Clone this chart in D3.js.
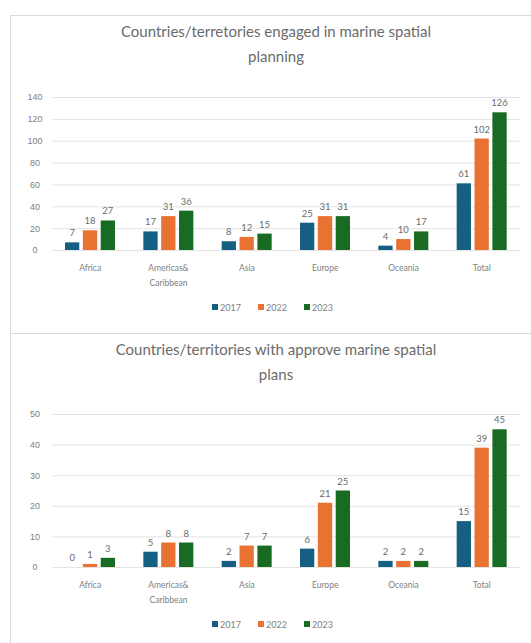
<!DOCTYPE html>
<html>
<head>
<meta charset="utf-8">
<script src="https://cdn.jsdelivr.net/npm/d3@7"></script>
<style>
body { margin: 0; background: #fff; }
svg { font-family: Lato, "Open Sans", sans-serif; }
</style>
</head>
<body>
<div id="chart"></div>
<script>
var categories = ["Africa", "Americas& Caribbean", "Asia", "Europe", "Oceania", "Total"];
var seriesNames = ["2017", "2022", "2023"];
var colors = ["#156082", "#E97132", "#196B24"];

var engaged2017 = [7, 17, 8, 25, 4, 61];
var engaged2022 = [18, 31, 12, 31, 10, 102];
var engaged2023 = [27, 36, 15, 31, 17, 126];
var engagedTicks = [0, 20, 40, 60, 80, 100, 120, 140];

var approved2017 = [0, 5, 2, 6, 2, 15];
var approved2022 = [1, 8, 7, 21, 2, 39];
var approved2023 = [3, 8, 7, 25, 2, 45];
var approvedTicks = [0, 10, 20, 30, 40, 50];

var svg = d3.select("#chart").append("svg").attr("width", 531).attr("height", 643);

function drawPanel(top, height, titleLines, series, ticks, yTop, yZero) {
	var g = svg.append("g").attr("transform", "translate(0," + top + ")");
	g.append("rect").attr("x", 10.5).attr("y", 0.5).attr("width", 530).attr("height", height)
		.attr("fill", "#fff").attr("stroke", "#d9d9d9").attr("stroke-width", 1);

	titleLines.forEach(function(t, i) {
		g.append("text").attr("x", 276).attr("y", 18 + i * 25).attr("text-anchor", "middle")
			.attr("dominant-baseline", "middle").attr("font-size", 15).attr("fill", "#6b6b6b").text(t);
	});

	var x = d3.scaleBand().domain(categories).range([51, 521]);
	var x1 = d3.scaleBand().domain(seriesNames).range([14, 64]).paddingInner(0.2);
	var y = d3.scaleLinear().domain([0, ticks[ticks.length - 1]]).range([yZero, yTop]);

	var yAxis = g.append("g").attr("transform", "translate(52,0)")
		.call(d3.axisLeft(y).tickValues(ticks).tickSize(-468).tickFormat(d3.format("d")));
	yAxis.select(".domain").remove();
	yAxis.selectAll("line").attr("stroke", "#e3e3e3");
	yAxis.selectAll("text").attr("x", -17).attr("fill", "#808080").attr("font-size", 9)
		.attr("text-anchor", "middle");

	var groups = g.selectAll(".grp").data(categories).enter().append("g")
		.attr("transform", function(d) { return "translate(" + x(d) + ",0)"; });

	seriesNames.forEach(function(s, si) {
		groups.append("rect")
			.attr("x", x1(s))
			.attr("y", function(d, i) { return y(series[si][i]); })
			.attr("width", x1.bandwidth())
			.attr("height", function(d, i) { return yZero - y(series[si][i]); })
			.attr("fill", colors[si]);
		groups.append("text")
			.attr("x", x1(s) + x1.bandwidth() / 2)
			.attr("y", function(d, i) { return y(series[si][i]) - 6; })
			.attr("text-anchor", "middle").attr("font-size", 9.5).attr("fill", "#6b6b6b")
			.text(function(d, i) { return series[si][i]; });
	});

	groups.each(function(d) {
		var words = d === "Americas& Caribbean" ? ["Americas&", "Caribbean"] : [d];
		var t = d3.select(this).append("text").attr("text-anchor", "middle")
			.attr("font-size", 8.5).attr("fill", "#808080");
		words.forEach(function(w, i) {
			t.append("tspan").attr("x", x.bandwidth() / 2).attr("y", yZero + 21 + i * 15).text(w);
		});
	});

	var legend = g.append("g").attr("transform", "translate(0," + (yZero + 61) + ")");
	seriesNames.forEach(function(s, i) {
		var lx = 212 + i * 46;
		legend.append("rect").attr("x", lx).attr("y", -7).attr("width", 6).attr("height", 6).attr("fill", colors[i]);
		legend.append("text").attr("x", lx + 8).attr("y", 0).attr("font-size", 9)
			.attr("fill", "#808080").text(s);
	});
}

drawPanel(15, 318, ["Countries/terretories engaged in marine spatial", "planning"],
	[engaged2017, engaged2022, engaged2023], engagedTicks, 82, 235);
drawPanel(333, 320, ["Countries/territories with approve marine spatial", "plans"],
	[approved2017, approved2022, approved2023], approvedTicks, 81, 234);
</script>
</body>
</html>
